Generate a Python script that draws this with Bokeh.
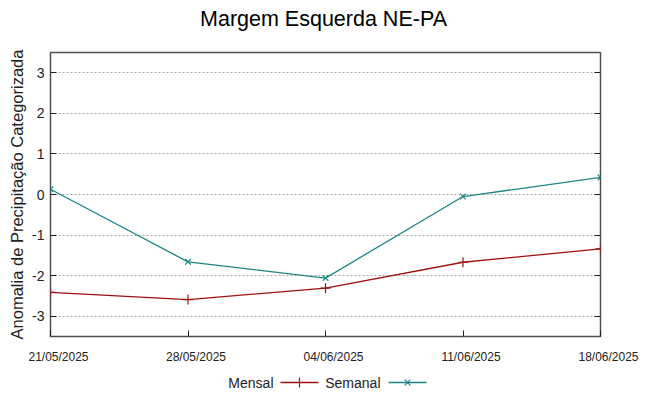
import pandas as pd
from bokeh.plotting import figure
from bokeh.layouts import column
from bokeh.models import (Range1d, FixedTicker, LinearAxis, CustomJSTickFormatter,
                          ColumnDataSource)
from bokeh.core.properties import value
from bokeh.embed import file_html
from bokeh.resources import INLINE

# ---- data ----
dates = ["2025-05-21", "2025-05-28", "2025-06-04", "2025-06-11", "2025-06-18"]
date_labels = ["21/05/2025", "28/05/2025", "04/06/2025", "11/06/2025", "18/06/2025"]
mensal = [-2.41, -2.59, -2.31, -1.67, -1.34]
semanal = [0.13, -1.66, -2.06, -0.05, 0.42]
y_ticks = [-3, -2, -1, 0, 1, 2, 3]
title_text = "Margem Esquerda NE-PA"
ylabel = "Anomalia de Precipitação Categorizada"
series_names = ["Mensal", "Semanal"]

FONT = "Liberation Sans"
RED = "#a01010"
TEAL = "#1f8585"
TXT = "#222222"

x = pd.to_datetime(dates)
x_ms = [int(t.value // 10**6) for t in x]

W = 640
LB, FW, FH = 50, 550, 284
RB = W - LB - FW

blank = CustomJSTickFormatter(code="return '';")

# ---- title strip ----
TH = 48
tf = figure(width=W, height=TH, output_backend="svg", toolbar_location=None,
            x_range=Range1d(0, W), y_range=Range1d(0, TH), min_border=0,
            x_axis_location=None, y_axis_location=None, frame_align=False)
tf.grid.visible = False
tf.outline_line_color = None
tf.text([323], [TH - 18], text=[title_text], text_font=value(FONT), text_font_size="21.5px",
        text_align="center", text_baseline="middle", text_color="#000000")

# ---- main plot ----
p = figure(frame_width=FW, frame_height=FH, x_axis_type="datetime", output_backend="svg",
           toolbar_location=None, x_range=Range1d(x[0], x[-1]), y_range=Range1d(-3.5, 3.5),
           min_border_left=LB, min_border_right=RB, min_border_top=4, min_border_bottom=4,
           frame_align=False)
p.outline_line_color = "#505050"
p.outline_line_width = 1.5

p.xgrid.grid_line_color = None
p.ygrid.grid_line_color = "#a8a8a8"
p.ygrid.grid_line_dash = "2 2"
p.ygrid.ticker = FixedTicker(ticks=y_ticks)

xa = p.xaxis[0]
xa.ticker = FixedTicker(ticks=x_ms)
xa.formatter = blank
xa.major_label_text_font_size = "1px"
xa.major_label_standoff = 0
xa.major_tick_in = 6
xa.major_tick_out = 0
xa.minor_tick_line_color = None
xa.axis_line_color = None
xa.major_tick_line_color = "#202020"

ya = p.yaxis[0]
ya.ticker = FixedTicker(ticks=y_ticks)
ya.formatter = CustomJSTickFormatter(code="return tick.toString();")
ya.major_label_text_font = FONT
ya.major_label_text_font_size = "14px"
ya.major_label_text_color = TXT
ya.major_tick_in = 6
ya.major_tick_out = 0
ya.minor_tick_line_color = None
ya.axis_line_color = None
ya.major_tick_line_color = "#202020"
ya.major_label_standoff = 6
ya.axis_label = ylabel
ya.axis_label_text_font = FONT
ya.axis_label_text_font_size = "16.5px"
ya.axis_label_text_font_style = "normal"
ya.axis_label_text_color = TXT
ya.axis_label_standoff = 3

ra = LinearAxis(ticker=FixedTicker(ticks=y_ticks), formatter=blank,
                major_label_text_font_size="1px",
                major_tick_in=6, major_tick_out=0, minor_tick_line_color=None,
                axis_line_color=None, major_tick_line_color="#202020", major_label_standoff=0)
p.add_layout(ra, "right")

p.line(x, mensal, line_color=RED, line_width=1.3)
p.scatter(x, mensal, marker="cross", size=10, line_color=RED, line_width=1.2)
p.line(x, semanal, line_color=TEAL, line_width=1.3)
p.scatter(x, semanal, marker="x", size=8, line_color=TEAL, line_width=1.2)

# ---- bottom strip: x tick labels + legend ----
span = x[-1] - x[0]
bx_range = Range1d(x[0] - span * (LB / FW), x[-1] + span * (RB / FW))
BH = 52
bf = figure(width=W, height=BH, output_backend="svg", toolbar_location=None,
            x_range=bx_range, y_range=Range1d(0, BH), min_border=0,
            x_axis_location=None, y_axis_location=None, frame_align=False)
bf.extra_x_ranges = {"px": Range1d(0, W)}
bf.grid.visible = False
bf.outline_line_color = None

src = ColumnDataSource(dict(x=x, y=[BH - 16] * len(x), t=date_labels))
bf.text("x", "y", text="t", source=src, x_offset=8, text_font=value(FONT),
        text_font_size="12px", text_align="center", text_baseline="middle", text_color=TXT)

ly = BH - 42
entries = [(series_names[0], RED, "cross", 10, 273, 280, 318),
           (series_names[1], TEAL, "x", 8, 380, 388, 426)]
for name, col, mk, sz, tx, x0, x1 in entries:
    bf.text([tx], [ly], text=[name], text_font_size="14px", text_align="right",
            text_baseline="middle", text_color=TXT, text_font=value(FONT), x_range_name="px")
    bf.segment([x0], [ly], [x1], [ly], line_color=col, line_width=1.3, x_range_name="px")
    bf.scatter([(x0 + x1) / 2], [ly], marker=mk, size=sz, line_color=col, line_width=1.2,
               x_range_name="px")

layout = column(tf, p, bf, spacing=0)
open("out.html", "w").write(file_html(layout, INLINE))
